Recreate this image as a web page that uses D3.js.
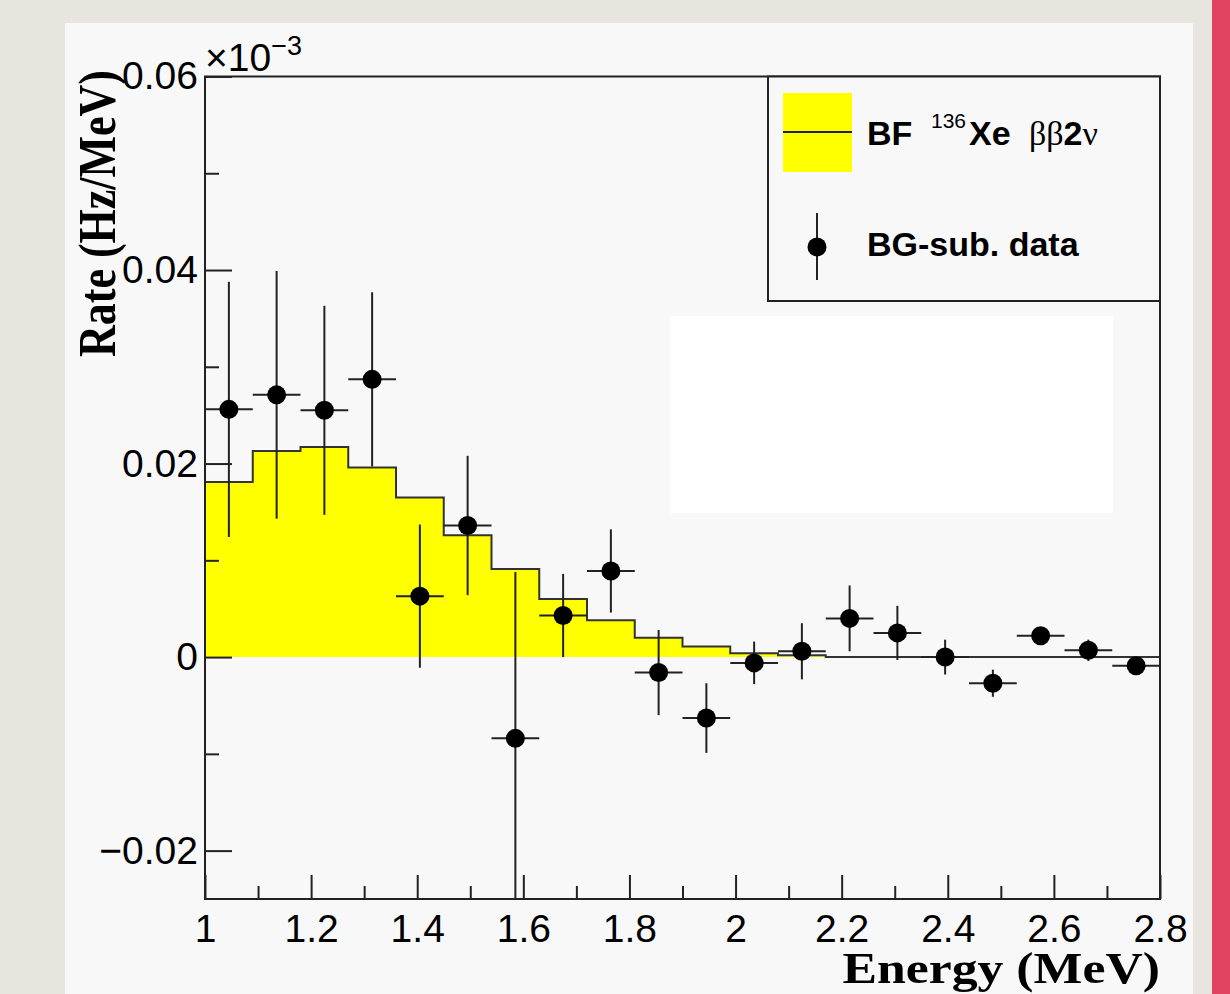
<!DOCTYPE html>
<html>
<head>
<meta charset="utf-8">
<script src="https://cdn.jsdelivr.net/npm/d3@7"></script>
<style>
  body { margin: 0; background: #e8e5df; }
  svg { display: block; }
</style>
</head>
<body>
<div id="chart"></div>
<script>
// bin centres (MeV), bin half width 0.045
const energy = [1.045, 1.135, 1.225, 1.315, 1.405, 1.495, 1.585, 1.675, 1.765, 1.855,
                1.945, 2.035, 2.125, 2.215, 2.305, 2.395, 2.485, 2.575, 2.665, 2.755];
const halfBin = 0.045;

// best-fit 136Xe 2vbb histogram (axis units, x10^-3 Hz/MeV)
const bfRate = [0.0181, 0.0213, 0.0217, 0.0196, 0.0165, 0.0126, 0.0091, 0.0060, 0.0038, 0.0020,
                0.0011, 0.0004, 0.0002, 0, 0, 0, 0, 0, 0, 0];

// background-subtracted data and errors
const dataRate = [0.0256, 0.0271, 0.0255, 0.0287, 0.0063, 0.0136, -0.0084, 0.0043, 0.0089, -0.0016,
                  -0.0063, -0.0006, 0.0006, 0.0040, 0.0025, 0.0000, -0.0027, 0.0022, 0.0007, -0.0009];
const dataErr = [0.0132, 0.0128, 0.0108, 0.0090, 0.0074, 0.0072, 0.0172, 0.0043, 0.0043, 0.0044,
                 0.0036, 0.0022, 0.0029, 0.0034, 0.0028, 0.0018, 0.0014, 0.0006, 0.0011, 0.0007];

const xMajor = [1, 1.2, 1.4, 1.6, 1.8, 2, 2.2, 2.4, 2.6, 2.8];
const xMinor = [1.1, 1.3, 1.5, 1.7, 1.9, 2.1, 2.3, 2.5, 2.7];
const yMajor = [-0.02, 0, 0.02, 0.04, 0.06];
const yMinor = [-0.01, 0.01, 0.03, 0.05];

const width = 1230, height = 994;
const plot = { left: 205, right: 1160, top: 76.5, bottom: 899 };
const ink = "#222";

const svg = d3.select("#chart").append("svg")
  .attr("width", width)
  .attr("height", height);

// slide background
svg.append("rect").attr("width", width).attr("height", height).attr("fill", "#e8e5df");
svg.append("rect").attr("x", 1212).attr("y", 0).attr("width", 18).attr("height", height).attr("fill", "#e0445f");
svg.append("rect").attr("x", 65).attr("y", 23).attr("width", 1128).attr("height", height - 23).attr("fill", "#f8f8f8");

const x = d3.scaleLinear().domain([1, 2.8]).range([plot.left, plot.right]);
const y = d3.scaleLinear().domain([-0.025, 0.06]).range([plot.bottom, plot.top]);

svg.append("clipPath").attr("id", "clip")
  .append("rect")
  .attr("x", plot.left).attr("y", plot.top)
  .attr("width", plot.right - plot.left).attr("height", plot.bottom - plot.top);

const g = svg.append("g").attr("clip-path", "url(#clip)");

// histogram as steps
const steps = energy.map((e, i) => ({ e: e - halfBin, v: bfRate[i] }));
steps.push({ e: energy[energy.length - 1] + halfBin, v: bfRate[bfRate.length - 1] });

g.append("path")
  .datum(steps)
  .attr("fill", "#ffff00")
  .attr("d", d3.area().curve(d3.curveStepAfter).x(d => x(d.e)).y0(y(0)).y1(d => y(d.v)));

g.append("path")
  .datum(steps)
  .attr("fill", "none")
  .attr("stroke", "#333")
  .attr("stroke-width", 2)
  .attr("d", d3.line().curve(d3.curveStepAfter).x(d => x(d.e)).y(d => y(d.v)));

// data points
const pts = energy.map((e, i) => ({ e, v: dataRate[i], err: dataErr[i] }));

g.selectAll(".ey").data(pts).join("line")
  .attr("x1", d => x(d.e)).attr("x2", d => x(d.e))
  .attr("y1", d => y(d.v - d.err)).attr("y2", d => y(d.v + d.err))
  .attr("stroke", ink).attr("stroke-width", 2);

g.selectAll(".ex").data(pts).join("line")
  .attr("x1", d => x(d.e - halfBin)).attr("x2", d => x(d.e + halfBin))
  .attr("y1", d => y(d.v)).attr("y2", d => y(d.v))
  .attr("stroke", ink).attr("stroke-width", 2);

g.selectAll("circle").data(pts).join("circle")
  .attr("cx", d => x(d.e)).attr("cy", d => y(d.v))
  .attr("r", 9.5).attr("fill", "#000");

// axes
const fmt = d3.format("~g");
const tickFont = "'Liberation Sans', Arial, Helvetica, sans-serif";

function styleAxis(sel) {
  sel.select(".domain").remove();
  sel.selectAll("line").attr("stroke", ink).attr("stroke-width", 2);
  sel.selectAll("text").attr("fill", "#000").style("font-family", tickFont).style("font-size", "39px");
}

svg.append("g")
  .attr("transform", `translate(0,${plot.bottom})`)
  .call(d3.axisBottom(x).tickValues(xMajor).tickFormat(fmt).tickSize(-24).tickSizeOuter(0).tickPadding(15))
  .call(styleAxis);

svg.append("g")
  .attr("transform", `translate(0,${plot.bottom})`)
  .call(d3.axisBottom(x).tickValues(xMinor).tickFormat("").tickSize(-13).tickSizeOuter(0))
  .call(styleAxis);

svg.append("g")
  .attr("transform", `translate(${plot.left},0)`)
  .call(d3.axisLeft(y).tickValues(yMajor).tickFormat(fmt).tickSize(-27).tickSizeOuter(0).tickPadding(7))
  .call(styleAxis);

svg.append("g")
  .attr("transform", `translate(${plot.left},0)`)
  .call(d3.axisLeft(y).tickValues(yMinor).tickFormat("").tickSize(-14).tickSizeOuter(0))
  .call(styleAxis);

// frame
svg.append("rect")
  .attr("x", plot.left).attr("y", plot.top)
  .attr("width", plot.right - plot.left).attr("height", plot.bottom - plot.top)
  .attr("fill", "none").attr("stroke", ink).attr("stroke-width", 2);

// exponent
const expo = svg.append("text")
  .attr("x", 205).attr("y", 71)
  .style("font-family", tickFont).style("font-size", "39px");
expo.append("tspan").text("\u00d710");
expo.append("tspan").attr("dy", -16).style("font-size", "27px").text("\u22123");

// axis titles
const titleFont = "'Liberation Serif', 'Times New Roman', serif";
svg.append("text")
  .attr("transform", "translate(115,70) rotate(-90) scale(1,1.22)")
  .attr("text-anchor", "end")
  .style("font-family", titleFont).style("font-weight", "bold").style("font-size", "44px")
  .text("Rate (Hz/MeV)");

svg.append("text")
  .attr("transform", "translate(1160,983) scale(1.15,1)")
  .attr("text-anchor", "end")
  .style("font-family", titleFont).style("font-weight", "bold").style("font-size", "45px")
  .text("Energy (MeV)");

// legend
const lg = svg.append("g");
lg.append("rect")
  .attr("x", 768).attr("y", plot.top).attr("width", plot.right - 768).attr("height", 301 - plot.top)
  .attr("fill", "#f8f8f8").attr("stroke", ink).attr("stroke-width", 2);
lg.append("rect").attr("x", 783).attr("y", 93).attr("width", 69).attr("height", 79).attr("fill", "#ffff00");
lg.append("line").attr("x1", 783).attr("x2", 852).attr("y1", 132).attr("y2", 132)
  .attr("stroke", ink).attr("stroke-width", 2);
lg.append("line").attr("x1", 817).attr("x2", 817).attr("y1", 213).attr("y2", 280)
  .attr("stroke", ink).attr("stroke-width", 2);
lg.append("circle").attr("cx", 817).attr("cy", 247).attr("r", 9.5).attr("fill", "#000");

const t1 = lg.append("text").attr("y", 145)
  .style("font-family", tickFont).style("font-size", "34px").attr("fill", "#000");
t1.append("tspan").attr("x", 867).style("font-weight", "bold").text("BF");
t1.append("tspan").attr("x", 931).attr("y", 128).style("font-size", "21px").text("136");
t1.append("tspan").attr("x", 969).attr("y", 145).style("font-weight", "bold").text("Xe");
t1.append("tspan").attr("x", 1029).style("font-family", titleFont).text("\u03b2\u03b2");
t1.append("tspan").style("font-weight", "bold").text("2");
t1.append("tspan").style("font-family", titleFont).text("\u03bd");

lg.append("text").attr("x", 867).attr("y", 256)
  .style("font-family", tickFont).style("font-size", "34px").style("font-weight", "bold")
  .text("BG-sub. data");

// blank white patch on the slide
svg.append("rect").attr("x", 670).attr("y", 316).attr("width", 443).attr("height", 197).attr("fill", "#ffffff");
</script>
</body>
</html>
